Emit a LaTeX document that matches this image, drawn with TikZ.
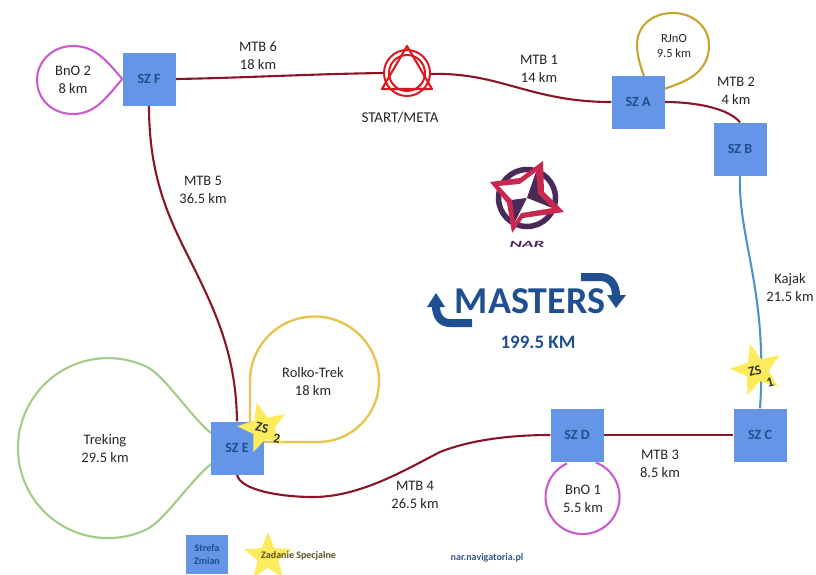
\documentclass[tikz,border=0pt]{standalone}
\usepackage{fontspec}
\setmainfont{Carlito}
\usetikzlibrary{shapes.geometric}
\definecolor{boxblue}{HTML}{6495E6}
\definecolor{boxtext}{HTML}{1F4E8C}
\definecolor{mtbred}{HTML}{8A1526}
\definecolor{bnopink}{HTML}{C95CCB}
\definecolor{trekgreen}{HTML}{A3CC88}
\definecolor{rolkoyellow}{HTML}{E9C452}
\definecolor{rjnogold}{HTML}{C9A430}
\definecolor{kajakblue}{HTML}{4F94C9}
\definecolor{staryellow}{HTML}{FCEB5A}
\definecolor{startred}{HTML}{D9191F}
\definecolor{logopink}{HTML}{C8284F}
\definecolor{logodark}{HTML}{4A2A58}
\definecolor{mastersblue}{HTML}{1F4F91}
\tikzset{
  szbox/.style={fill=boxblue,draw=none,minimum size=53pt,inner sep=0pt,text=boxtext,font=\fontsize{14}{15}\selectfont\bfseries},
  lbl/.style={align=center,inner sep=0pt,text=black!85,font=\fontsize{14.5}{18}\selectfont},
  mtb/.style={draw=mtbred,line width=2.1pt},
  bno/.style={draw=bnopink,line width=2.1pt},
  trek/.style={draw=trekgreen,line width=2.1pt},
  rolko/.style={draw=rolkoyellow,line width=2.4pt},
  rjno/.style={draw=rjnogold,line width=2.1pt},
  kajak/.style={draw=kajakblue,line width=2.1pt},
  zstar/.style={star,star points=5,star point ratio=2.3,fill=staryellow,draw=none,inner sep=0pt,minimum size=#1},
  zstext/.style={inner sep=0pt,text=black!80,font=\fontsize{13.5}{15}\selectfont\bfseries},
  legendtxt/.style={inner sep=0pt,align=center,font=\fontsize{10}{13}\selectfont\bfseries},
  masterarrow/.style={draw=mastersblue,line width=8pt},
}
\begin{document}
\begin{tikzpicture}[x=1pt,y=-1pt]
\useasboundingbox (0,0) rectangle (816,574);
% connectors are drawn first, with named anchors from nodes placed invisibly
\node[szbox,text opacity=0] (szf) at (149,79) {SZ F};
\node[szbox,text opacity=0] (sza) at (638,102) {SZ A};
\node[szbox,text opacity=0] (szb) at (740,149) {SZ B};
\node[szbox,text opacity=0] (szc) at (760,435) {SZ C};
\node[szbox,text opacity=0] (szd) at (577,435) {SZ D};
\node[szbox,text opacity=0] (sze) at (237,448) {SZ E};
\coordinate (startw) at (383,73);
\coordinate (starte) at (431,74);
\draw[mtb] (szf.east) .. controls (240,78) and (310,74) .. (startw);
\draw[mtb] (starte) .. controls (500,72) and (530,102) .. (sza.west);
\draw[mtb] (sza.east) .. controls (695,102) and (728,108) .. (szb.north);
\draw[kajak] (szb.south) .. controls (738,240) and (768,290) .. (szc.north);
\draw[mtb] (szc.west) -- (szd.east);
\draw[mtb] (szd.west) .. controls (510,435) and (470,440) .. (440,452) .. controls (405,470) and (360,497) .. (313,497) .. controls (280,497) and (240,490) .. (sze.south);
\draw[mtb] (szf.south) .. controls (149,170) and (165,210) .. (185,250) .. controls (213,306) and (236,350) .. (sze.north);
% loops
\draw[bno] (szf.west) .. controls (106,60) and (95,46) .. (73,46) .. controls (52,46) and (37,62) .. (37,80) .. controls (37,99) and (52,114) .. (73,114) .. controls (95,114) and (106,98) .. (szf.west);
\coordinate (dl) at (566.9,463.5);
\draw[bno] (dl) arc[start angle=-115,end angle=-429,radius=37];
\coordinate (el) at (211,433);
\coordinate (er) at (211,464);
\draw[trek] (el) .. controls (190,416) and (165,376) .. (147,367) arc[start angle=-64.3,end angle=-295.7,radius=90] .. controls (165,520) and (190,481) .. (er);
\coordinate (ra) at (250,424);
\coordinate (rb) at (262,442);
\draw[rolko] (ra) -- (250,381) arc[start angle=180,end angle=360,radius=64.5] arc[start angle=0,end angle=90,radius=61] -- (rb);
\coordinate (ja) at (644,76);
\coordinate (jb) at (664,89);
\draw[rjno] (ja) .. controls (640,65) and (637,55) .. (637,45) .. controls (637,26) and (652,13) .. (673,13) .. controls (693,13) and (709,27) .. (709,45) .. controls (709,62) and (700,72) .. (690,78) .. controls (682,83) and (672,86) .. (jb);
% boxes over the connectors
\node[szbox] at (szf) {SZ F};
\node[szbox] at (sza) {SZ A};
\node[szbox] at (szb) {SZ B};
\node[szbox] at (szc) {SZ C};
\node[szbox] at (szd) {SZ D};
\node[szbox] at (sze) {SZ E};
% START symbol
\draw[startred,line width=2.1pt,line join=round] (407,46) -- (382,89) -- (432,89) -- cycle;
\draw[startred,line width=2pt] (407,73) circle[radius=23];
\draw[startred,line width=2pt] (407,73) circle[radius=18];
\node[lbl,font=\fontsize{15}{18}\selectfont] (startlbl) at (400,118) {START/META};
% labels
\node[lbl] (l1) at (258,56) {MTB 6\\18 km};
\node[lbl] (l2) at (539,69) {MTB 1\\14 km};
\node[lbl] (l3) at (736,91) {MTB 2\\4 km};
\node[lbl,font=\fontsize{12.5}{15.5}\selectfont] (l4) at (674,46) {RJnO\\9.5 km};
\node[lbl] (l5) at (73,80) {BnO 2\\8 km};
\node[lbl] (l6) at (203,190) {MTB 5\\36.5 km};
\node[lbl] (l7) at (790,288) {Kajak\\21.5 km};
\node[lbl] (l8) at (313,382) {Rolko-Trek\\18 km};
\node[lbl] (l9) at (105,449) {Treking\\29.5 km};
\node[lbl] (l10) at (660,464) {MTB 3\\8.5 km};
\node[lbl] (l11) at (415,495) {MTB 4\\26.5 km};
\node[lbl] (l12) at (583,499) {BnO 1\\5.5 km};
% stars
\node[zstar=54pt,rotate=15] (s1) at (757,370) {};
\node[zstext,rotate=15] (z1) at (755,371) {ZS};
\node[zstext,rotate=15] (z1b) at (770,382) {1};
\node[zstar=52pt,rotate=14] (s2) at (263,428) {};
\node[zstext,rotate=-12] (z2) at (262,428) {ZS};
\node[zstext,rotate=-8] (z2b) at (277,439) {2};
% logo
\draw[logodark,line width=5.5pt] (527,198) circle[radius=28.5];
\fill[logopink] (543,161) -- (544,192) -- (564,212) -- (523,218) -- (512,233) -- (507,203) -- (490,182) -- (520,178) -- cycle;
\fill[white] (536,172) -- (520,184) -- (499,186) -- (512,200) -- (527,198) -- cycle;
\fill[logodark] (536,172) -- (538,194) -- (552,208) -- (527,198) -- cycle;
\fill[logodark] (527,198) -- (512,200) -- (515,222) -- cycle;
\fill[white] (527,198) -- (552,208) -- (521,213) -- (515,222) -- cycle;
\node[inner sep=0pt,text=logodark,font=\fontsize{9.5}{10}\selectfont\bfseries\itshape] (nar) at (527,244) {\scalebox{2}[1]{NAR}};
% masters
\node[inner sep=0pt,text=mastersblue,font=\fontsize{38}{44}\selectfont\bfseries] (masters) at (530,301) {MASTERS};
\node[inner sep=0pt,text=mastersblue,font=\fontsize{19}{20}\selectfont\bfseries] (km) at (538,342) {199.5 KM};
\draw[masterarrow] (472,323) -- (450,323) .. controls (441,323) and (436,316) .. (436,306);
\fill[mastersblue] (427,307) -- (445,307) -- (436,293) -- cycle;
\draw[masterarrow] (581,277) -- (600,277) .. controls (610,277) and (616,284) .. (616,296);
\fill[mastersblue] (607,295) -- (626,295) -- (616,308) -- cycle;
% legend
\node[fill=boxblue,minimum width=42pt,minimum height=39pt,inner sep=0pt,legendtxt,text=boxtext] (leg) at (207,554.5) {Strefa\\Zmian};
\node[zstar=50pt] (legs) at (268,557) {};
\node[legendtxt,text=black!65!staryellow,anchor=west] (legt) at (261,556) {Zadanie Specjalne};
\node[legendtxt,text=boxtext!80!gray] (web) at (487,558) {nar.navigatoria.pl};
\end{tikzpicture}
\end{document}
